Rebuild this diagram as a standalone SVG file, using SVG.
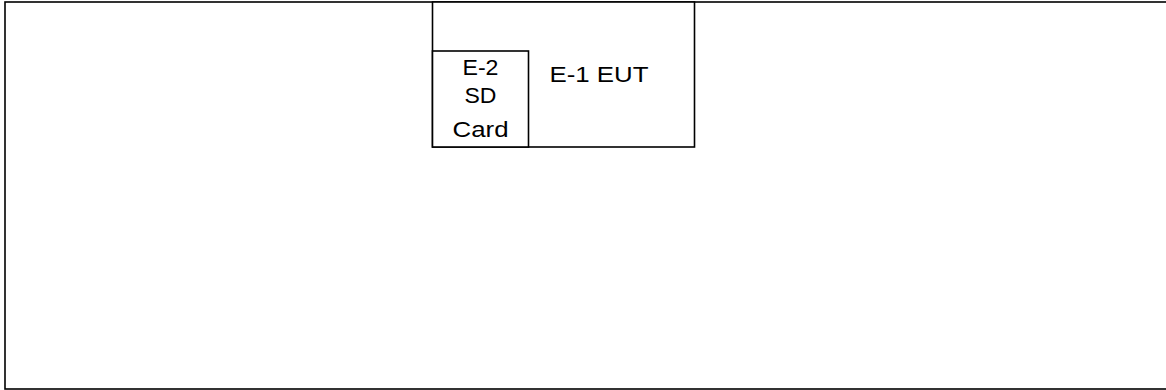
<svg xmlns="http://www.w3.org/2000/svg" width="1166" height="390" viewBox="0 0 1166 390">
<style>
.box{fill:#fff;stroke:#000;stroke-width:1.6}
.t{font-family:"Liberation Sans",Arial,sans-serif;font-size:22px;fill:#000;text-anchor:middle}
</style>
<rect width="1166" height="390" fill="#fff"/>
<g id="frame"><rect class="box" x="5" y="2" width="1170" height="387"/></g>
<g id="eut">
<rect class="box" x="432.5" y="2" width="262" height="145"/>
<text class="t" x="599" y="82" textLength="99" lengthAdjust="spacingAndGlyphs">E-1 EUT</text>
</g>
<g id="sdcard">
<rect class="box" x="432.5" y="51" width="96" height="96"/>
<text class="t" x="480.5" y="74.5" textLength="36" lengthAdjust="spacingAndGlyphs">E-2</text>
<text class="t" x="480.5" y="102.5" textLength="32" lengthAdjust="spacingAndGlyphs">SD</text>
<text class="t" x="480.5" y="136.5" textLength="56" lengthAdjust="spacingAndGlyphs">Card</text>
</g>
<g id="connectors"></g>
</svg>
